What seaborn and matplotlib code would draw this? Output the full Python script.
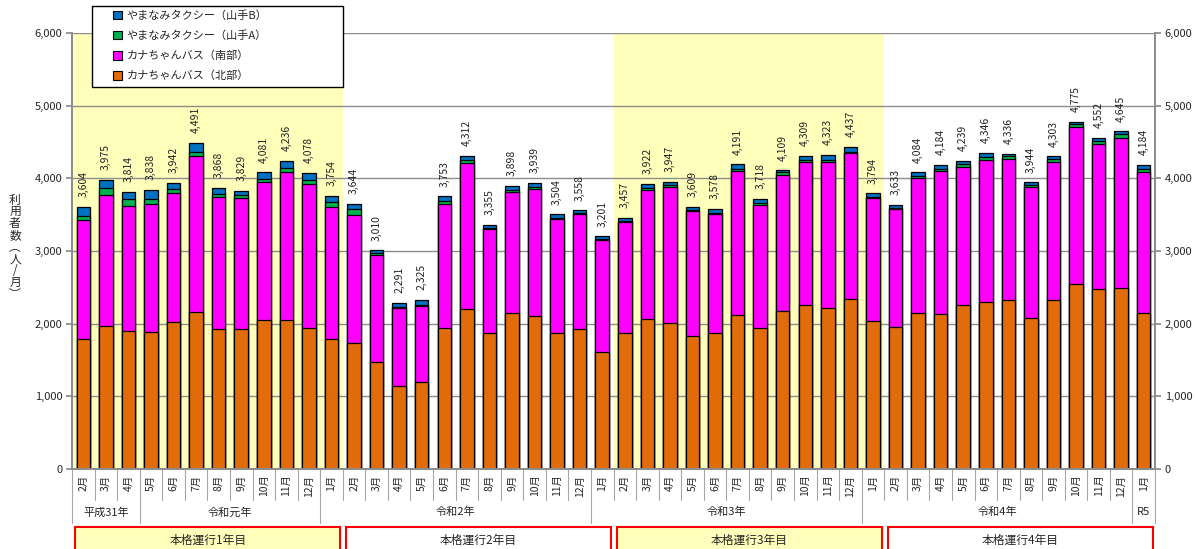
import pandas as pd
import matplotlib
matplotlib.use("Agg")
import matplotlib.pyplot as plt
import matplotlib.transforms as mtransforms
from matplotlib.patches import Rectangle, Patch
from matplotlib.ticker import FuncFormatter
import seaborn as sns

# monthly riders, Feb 2019 (H31) - Jan 2023 (R5)
months = ["2月", "3月", "4月", "5月", "6月", "7月", "8月", "9月", "10月", "11月", "12月",
          "1月", "2月", "3月", "4月", "5月", "6月", "7月", "8月", "9月", "10月", "11月", "12月",
          "1月", "2月", "3月", "4月", "5月", "6月", "7月", "8月", "9月", "10月", "11月", "12月",
          "1月", "2月", "3月", "4月", "5月", "6月", "7月", "8月", "9月", "10月", "11月", "12月",
          "1月"]
north = [1785, 1963, 1899, 1890, 2023, 2165, 1922, 1931, 2046, 2050, 1945,
         1789, 1734, 1477, 1142, 1197, 1940, 2202, 1871, 2151, 2105, 1867, 1922,
         1614, 1871, 2064, 2009, 1826, 1867, 2119, 1940, 2170, 2257, 2215, 2335,
         2036, 1950, 2142, 2128, 2252, 2294, 2321, 2082, 2330, 2541, 2477, 2486,
         2142]
south = [1641, 1807, 1715, 1752, 1779, 2142, 1816, 1794, 1903, 2032, 1977,
         1821, 1766, 1468, 1069, 1046, 1702, 2004, 1436, 1661, 1743, 1569, 1587,
         1537, 1523, 1771, 1876, 1724, 1637, 1977, 1688, 1871, 1963, 2014, 2009,
         1693, 1628, 1858, 1968, 1908, 1958, 1949, 1798, 1894, 2165, 1991, 2065,
         1949]
yama_a = [60, 92, 101, 78, 46, 59, 46, 45, 37, 60, 55,
          60, 73, 27, 18, 14, 46, 46, 13, 27, 37, 22, 18,
          14, 18, 27, 23, 18, 23, 32, 28, 50, 32, 18, 18,
          18, 18, 36, 32, 32, 45, 32, 32, 37, 41, 50, 55,
          41]
yama_b = [118, 113, 99, 118, 94, 125, 84, 59, 95, 94, 101,
          84, 71, 38, 62, 68, 65, 60, 35, 59, 54, 46, 31,
          36, 45, 60, 39, 41, 51, 63, 62, 18, 57, 76, 75,
          47, 37, 48, 56, 47, 49, 34, 32, 42, 28, 34, 39,
          52]
totals = [3604, 3975, 3814, 3838, 3942, 4491, 3868, 3829, 4081, 4236, 4078,
          3754, 3644, 3010, 2291, 2325, 3753, 4312, 3355, 3898, 3939, 3504, 3558,
          3201, 3457, 3922, 3947, 3609, 3578, 4191, 3718, 4109, 4309, 4323, 4437,
          3794, 3633, 4084, 4184, 4239, 4346, 4336, 3944, 4303, 4775, 4552, 4645,
          4184]

years = ["平成31年", "令和元年", "令和2年", "令和3年", "令和4年", "R5"]
year_sizes = [3, 8, 12, 12, 12, 1]
phases = ["本格運行1年目", "本格運行2年目", "本格運行3年目", "本格運行4年目"]
phase_sizes = [12, 12, 12, 12]
phase_shaded = [True, False, True, False]

series_names = ["カナちゃんバス（北部）", "カナちゃんバス（南部）",
                "やまなみタクシー（山手A）", "やまなみタクシー（山手B）"]
colors = ["#E36C0A", "#FF00FF", "#00B050", "#0070C0"]
yellow = "#FFFFBB"
gray = "#8C8C8C"

sns.set_theme(style="white")
plt.rcParams['font.family'] = ['Noto Sans CJK JP', 'DejaVu Sans']

df = pd.DataFrame({"idx": range(len(months)), "north": north, "south": south,
                   "a": yama_a, "b": yama_b})
df["c1"] = df["north"]
df["c2"] = df["c1"] + df["south"]
df["c3"] = df["c2"] + df["a"]
df["c4"] = df["c3"] + df["b"]

fig = plt.figure(figsize=(11.98, 5.49), dpi=100)
ax = fig.add_axes([72 / 1198, 1 - 469 / 549, (1155 - 72) / 1198, 436 / 549])

# shaded periods (本格運行1年目 / 3年目)
start = 0
for size, sh in zip(phase_sizes, phase_shaded):
    if sh:
        ax.axvspan(start - 0.5, start + size - 0.5, color=yellow, zorder=0, lw=0)
    start += size

# stacked bars: draw cumulative heights from top to bottom
for col, c in zip(["c4", "c3", "c2", "c1"], colors[::-1]):
    sns.barplot(data=df, x="idx", y=col, color=c, saturation=1, width=0.6,
                edgecolor="black", linewidth=0.9, ax=ax, zorder=2)

for i, t in enumerate(totals):
    ax.annotate(f"{t:,}", (i, t), xytext=(0, 7), textcoords="offset points",
                rotation=90, ha="center", va="bottom", fontsize=7.5, color="#222222")

ax.set_xlim(-0.5, len(months) - 0.5)
ax.set_ylim(0, 6000)
ax.set_yticks(range(0, 7000, 1000))
fmt = FuncFormatter(lambda v, p: f"{int(v):,}")
ax.yaxis.set_major_formatter(fmt)
ax.yaxis.grid(True, color=gray, lw=1)
ax.set_axisbelow(True)
ax.set_xlabel("")
ax.set_ylabel("")
ax.set_xticks(range(len(months)))
ax.set_xticklabels(months, rotation=90, fontsize=7.5)
ax.tick_params(axis="x", length=0, pad=4)
ax.tick_params(axis="y", left=True, length=4, color=gray, labelsize=8, pad=3)
for s in ["left", "right", "bottom"]:
    ax.spines[s].set_color(gray)
ax.spines["top"].set_visible(False)

ax2 = ax.twinx()
ax2.set_ylim(0, 6000)
ax2.set_yticks(range(0, 7000, 1000))
ax2.yaxis.set_major_formatter(fmt)
ax2.tick_params(axis="y", right=True, length=4, color=gray, labelsize=8, pad=3)
for s in ["left", "right", "bottom"]:
    ax2.spines[s].set_color(gray)
ax2.spines["top"].set_visible(False)

# category axis: month separators, year groups, phase boxes
trans = mtransforms.blended_transform_factory(ax.transData, ax.transAxes)
for i in range(len(months) + 1):
    ax.plot([i - 0.5, i - 0.5], [0, -0.071], transform=trans, color="#A6A6A6",
            lw=0.8, clip_on=False)
start = 0
bounds = [0]
for name, size in zip(years, year_sizes):
    ax.text(start + size / 2 - 0.5, -0.099, name, transform=trans, ha="center",
            va="center", fontsize=8)
    start += size
    bounds.append(start)
for b in bounds:
    ax.plot([b - 0.5, b - 0.5], [-0.071, -0.124], transform=trans, color="#A6A6A6",
            lw=0.8, clip_on=False)

start = 0
for name, size, sh in zip(phases, phase_sizes, phase_shaded):
    x0 = start - 0.5 + 0.15
    x1 = min(start + size - 0.5 - 0.1, len(months) - 0.55)
    ax.add_patch(Rectangle((x0, -0.26), x1 - x0, 0.127, transform=trans,
                           facecolor=yellow if sh else "white", edgecolor="#FF0000",
                           lw=1.5, clip_on=False))
    ax.text((x0 + x1) / 2, -0.163, name, transform=trans, ha="center", va="center",
            fontsize=8.5)
    start += size

# vertical y label
ylab = ["利", "用", "者", "数", "︵", "人", "/", "月", "︶"]
for k, ch in enumerate(ylab):
    fig.text(15 / 1198, 1 - (200 + k * 11.8) / 549, ch, ha="center", va="center",
             fontsize=8.5)

# legend with its own frame
fig.patches.append(Rectangle((92 / 1198, 1 - 87 / 549), 251 / 1198, 81 / 549,
                             transform=fig.transFigure, facecolor="white",
                             edgecolor="black", lw=1, zorder=4))
handles = [Patch(facecolor=c, edgecolor="black", lw=0.8) for c in colors[::-1]]
fig.legend(handles, series_names[::-1], loc="upper left",
           bbox_to_anchor=(113 / 1198, 1 - 10 / 549), frameon=False, fontsize=8,
           handlelength=0.8, handleheight=0.8, handletextpad=0.4, labelspacing=0.86,
           borderpad=0, borderaxespad=0)

fig.savefig("out.png", dpi=100)
